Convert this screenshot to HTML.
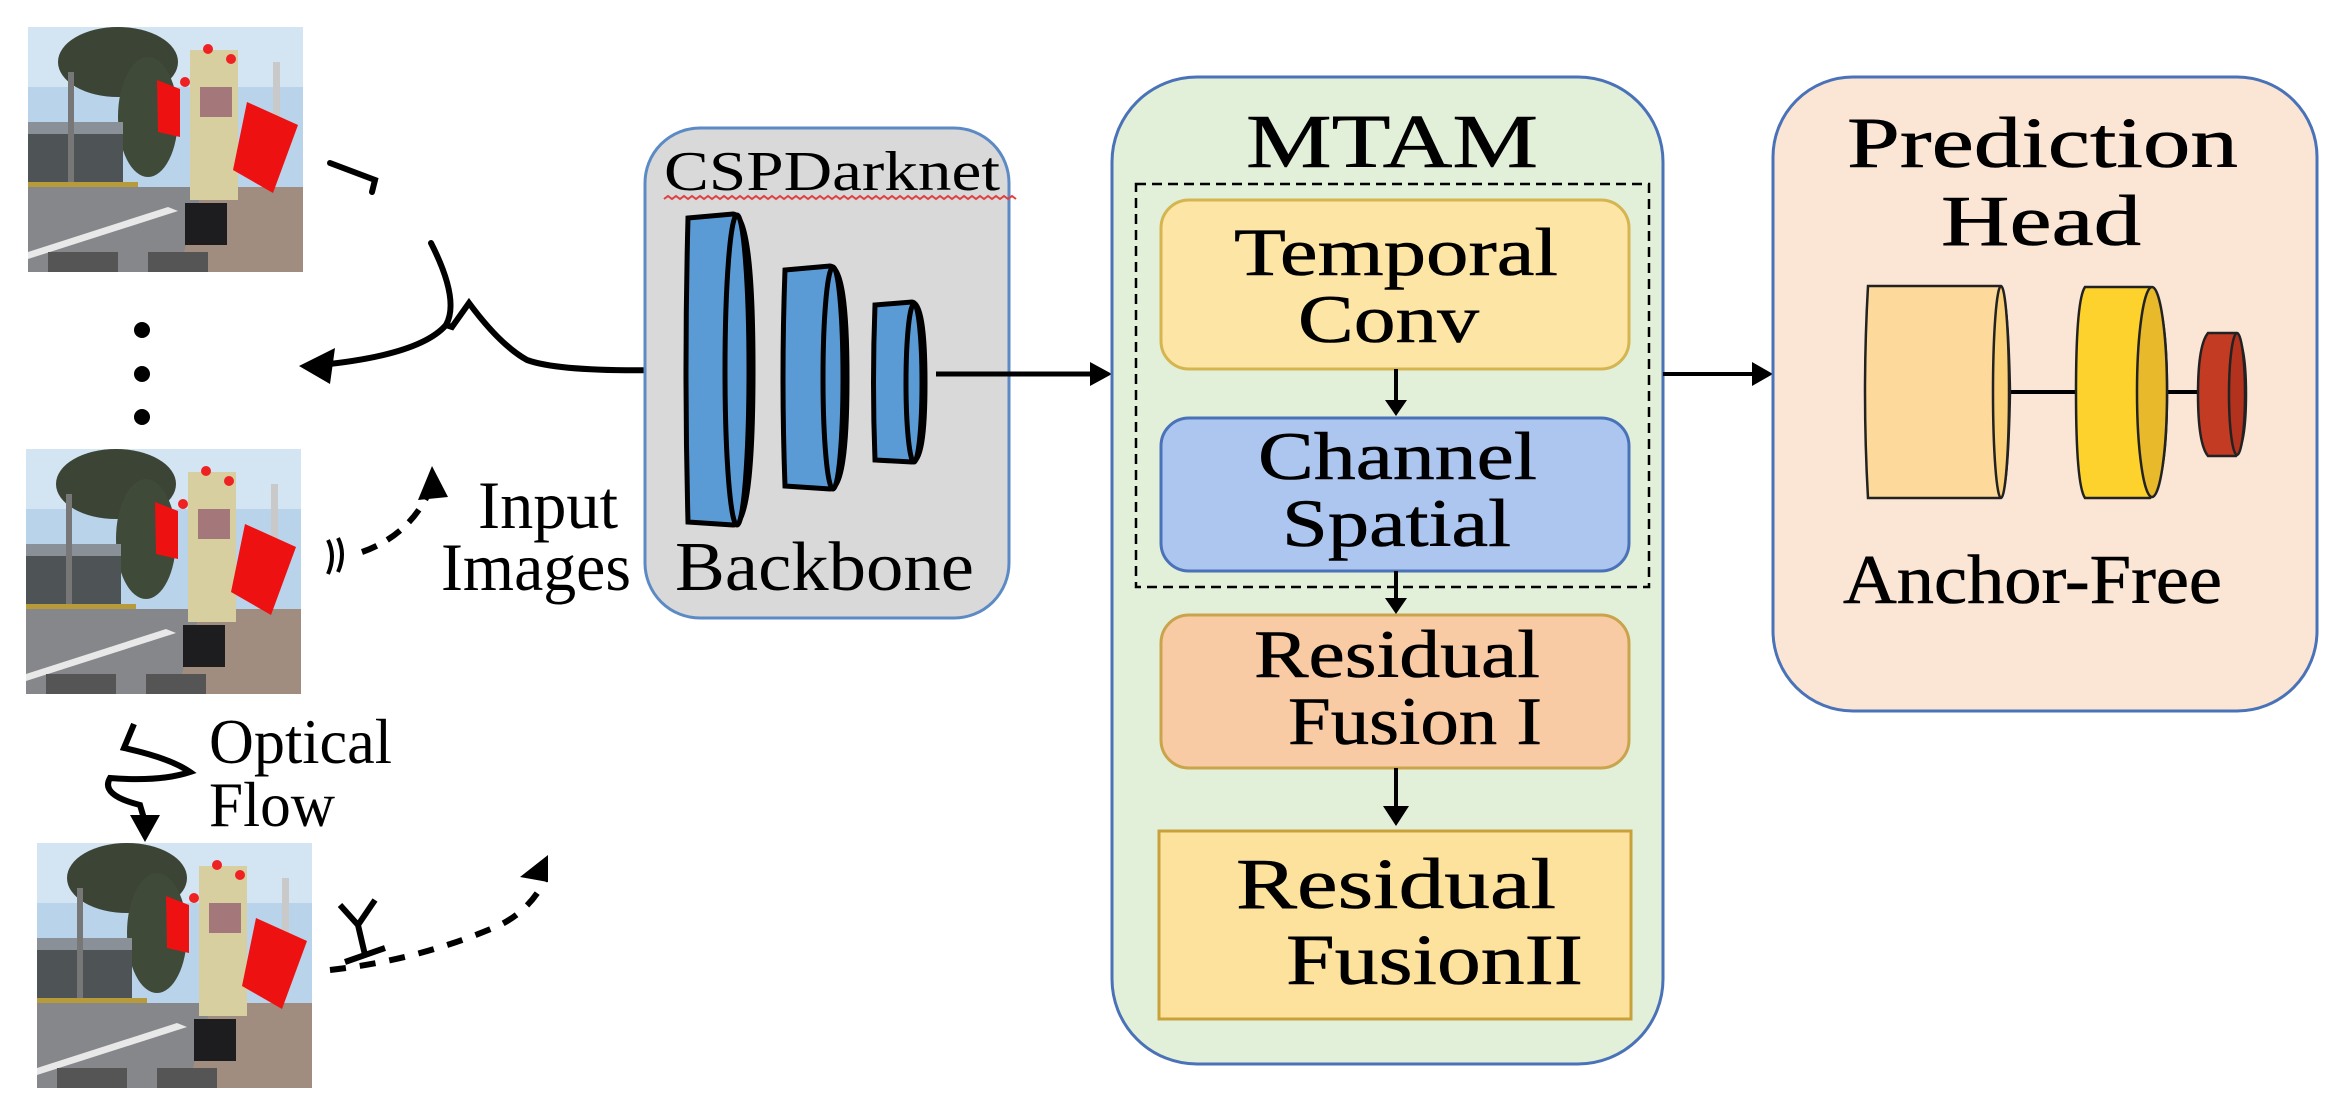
<!DOCTYPE html>
<html><head><meta charset="utf-8"><style>
html,body{margin:0;padding:0;background:#fff;}
svg{display:block;}
text{font-family:"Liberation Serif",serif;fill:#000;}
.b{stroke:#000;stroke-width:0.6;}
</style></head><body>
<svg width="2339" height="1112" viewBox="0 0 2339 1112" xmlns="http://www.w3.org/2000/svg">
<defs>
<g id="photo">
  <rect x="0" y="0" width="275" height="245" fill="#b9d3ea"/>
  <rect x="0" y="0" width="275" height="60" fill="#d3e4f2"/>
  <ellipse cx="90" cy="35" rx="60" ry="35" fill="#3c4435"/>
  <ellipse cx="120" cy="90" rx="30" ry="60" fill="#3f4a38"/>
  <rect x="0" y="95" width="95" height="65" fill="#4e5356"/>
  <rect x="0" y="95" width="95" height="12" fill="#8a9097"/>
  <rect x="245" y="35" width="7" height="85" fill="#c9c9c9"/>
  <rect x="40" y="45" width="6" height="120" fill="#777"/>
  <rect x="0" y="155" width="110" height="8" fill="#b79a3a"/>
  <rect x="0" y="160" width="275" height="85" fill="#85878a"/>
  <polygon points="175,160 275,160 275,245 150,245" fill="#a08d80"/>
  <polygon points="0,225 140,180 150,184 0,232" fill="#e8e8e8"/>
  <rect x="20" y="225" width="70" height="20" fill="#555"/>
  <rect x="120" y="225" width="60" height="20" fill="#555"/>
  <rect x="162" y="23" width="48" height="150" fill="#d8cfa0"/>
  <rect x="172" y="60" width="32" height="30" fill="#a4787a"/>
  <circle cx="180" cy="22" r="5" fill="#e22"/><circle cx="203" cy="32" r="5" fill="#e22"/><circle cx="157" cy="55" r="5" fill="#e22"/>
  <rect x="157" y="176" width="42" height="42" fill="#1d1d1f"/>
  <polygon points="129,53 152,62 152,110 130,105" fill="#ee1111"/>
  <polygon points="219,75 270,98 245,166 205,143" fill="#ee1111"/>
</g>
</defs>

<use href="#photo" transform="translate(28,27)"/>
<use href="#photo" transform="translate(26,449)"/>
<use href="#photo" transform="translate(37,843)"/>

<circle cx="142" cy="330" r="8" fill="#000"/>
<circle cx="142" cy="374" r="8" fill="#000"/>
<circle cx="142" cy="417" r="8" fill="#000"/>

<g fill="none" stroke="#000" stroke-width="6" stroke-linecap="round">
  <path d="M330,163 L375,180 L372,192"/>
  <path d="M431,243 Q460,300 446,325 Q420,355 320,365"/>
  <path d="M446,325 L452,327 L469,303 Q500,345 527,360 Q560,372 665,370"/>
</g>
<polygon points="299,366 335,348 330,384" fill="#000"/>
<polygon points="685,370 662,358 662,382" fill="#000"/>

<g fill="none" stroke="#000" stroke-width="6" stroke-dasharray="16,12">
  <path d="M362,552 Q410,535 430,490"/>
</g>
<path d="M328,540 q8,16 0,34 M338,538 q8,16 0,34" fill="none" stroke="#000" stroke-width="4"/>
<polygon points="432,466 418,500 448,497" fill="#000"/>
<text x="478" y="528" font-size="68" textLength="140" lengthAdjust="spacingAndGlyphs">Input</text>
<text x="441" y="590" font-size="68" textLength="190" lengthAdjust="spacingAndGlyphs">Images</text>

<path d="M134,724 L124,748 Q170,758 190,772 Q160,782 110,778 Q100,795 140,805 L145,822" fill="none" stroke="#000" stroke-width="6"/>
<polygon points="145,842 130,815 160,815" fill="#000"/>
<text x="209" y="763" font-size="64" textLength="183" lengthAdjust="spacingAndGlyphs">Optical</text>
<text x="209" y="826" font-size="64" textLength="126" lengthAdjust="spacingAndGlyphs">Flow</text>

<path d="M330,970 Q420,960 500,925 Q530,910 545,880" fill="none" stroke="#000" stroke-width="6" stroke-dasharray="16,14"/>
<path d="M345,962 L385,948 M365,955 L358,925 L340,905 M358,925 L375,900" fill="none" stroke="#000" stroke-width="6"/>
<polygon points="548,855 520,877 548,882" fill="#000"/>

<rect x="645" y="128" width="364" height="490" rx="55" fill="#d9d9d9" stroke="#5b8ac4" stroke-width="3"/>
<text x="664" y="190" font-size="56" textLength="336" lengthAdjust="spacingAndGlyphs">CSPDarknet</text>
<path d="M664,199 l4,-3 l4,3 l4,-3 l4,3 l4,-3 l4,3 l4,-3 l4,3 l4,-3 l4,3 l4,-3 l4,3 l4,-3 l4,3 l4,-3 l4,3 l4,-3 l4,3 l4,-3 l4,3 l4,-3 l4,3 l4,-3 l4,3 l4,-3 l4,3 l4,-3 l4,3 l4,-3 l4,3 l4,-3 l4,3 l4,-3 l4,3 l4,-3 l4,3 l4,-3 l4,3 l4,-3 l4,3 l4,-3 l4,3 l4,-3 l4,3 l4,-3 l4,3 l4,-3 l4,3 l4,-3 l4,3 l4,-3 l4,3 l4,-3 l4,3 l4,-3 l4,3 l4,-3 l4,3 l4,-3 l4,3 l4,-3 l4,3 l4,-3 l4,3 l4,-3 l4,3 l4,-3 l4,3 l4,-3 l4,3 l4,-3 l4,3 l4,-3 l4,3 l4,-3 l4,3 l4,-3 l4,3 l4,-3 l4,3 l4,-3 l4,3 l4,-3 l4,3 l4,-3 l4,3 l4,-3 l4,3" fill="none" stroke="#e04040" stroke-width="2"/>
<text x="675" y="590" font-size="70" textLength="299" lengthAdjust="spacingAndGlyphs">Backbone</text>
<g stroke="#000" stroke-width="5" fill="#5b9bd5">
  <path d="M688,218 L733,214 Q753,215 753,370 Q753,525 733,525 L688,522 Q684,370 688,218 Z"/>
  <ellipse cx="737" cy="370" rx="12" ry="155"/>
  <path d="M785,270 L830,266 Q847,267 847,378 Q847,489 830,489 L785,486 Q781,378 785,270 Z"/>
  <ellipse cx="833" cy="378" rx="10" ry="111"/>
  <path d="M875,305 L912,302 Q925,303 925,383 Q925,462 912,462 L875,460 Q872,383 875,305 Z"/>
  <ellipse cx="914" cy="383" rx="8" ry="79"/>
</g>
<line x1="936" y1="374" x2="1095" y2="374" stroke="#000" stroke-width="5"/>
<polygon points="1112,374 1090,362 1090,386" fill="#000"/>

<rect x="1112" y="77" width="551" height="987" rx="85" fill="#e2efd9" stroke="#4a72b8" stroke-width="3"/>
<text class="b" x="1246" y="167" font-size="76" textLength="292" lengthAdjust="spacingAndGlyphs">MTAM</text>
<rect x="1136" y="184" width="513" height="403" fill="none" stroke="#000" stroke-width="2.5" stroke-dasharray="10,6"/>
<rect x="1161" y="200" width="468" height="169" rx="28" fill="#fde5a5" stroke="#d4b550" stroke-width="3"/>
<text class="b" x="1234" y="275" font-size="68" textLength="324" lengthAdjust="spacingAndGlyphs">Temporal</text>
<text class="b" x="1298" y="342" font-size="68" textLength="181" lengthAdjust="spacingAndGlyphs">Conv</text>
<rect x="1161" y="418" width="468" height="153" rx="28" fill="#adc6ef" stroke="#4a72b8" stroke-width="3"/>
<text class="b" x="1258" y="479" font-size="68" textLength="279" lengthAdjust="spacingAndGlyphs">Channel</text>
<text class="b" x="1282" y="546" font-size="68" textLength="229" lengthAdjust="spacingAndGlyphs">Spatial</text>
<rect x="1161" y="615" width="468" height="153" rx="28" fill="#f8cba5" stroke="#c9a44c" stroke-width="3"/>
<text class="b" x="1254" y="677" font-size="68" textLength="286" lengthAdjust="spacingAndGlyphs">Residual</text>
<text class="b" x="1288" y="744" font-size="68" textLength="254" lengthAdjust="spacingAndGlyphs">Fusion I</text>
<rect x="1159" y="831" width="472" height="188" fill="#fde29e" stroke="#c9a13b" stroke-width="3"/>
<text class="b" x="1236" y="908" font-size="72" textLength="320" lengthAdjust="spacingAndGlyphs">Residual</text>
<text class="b" x="1286" y="984" font-size="72" textLength="297" lengthAdjust="spacingAndGlyphs">FusionII</text>
<g stroke="#000" stroke-width="4">
  <line x1="1396" y1="369" x2="1396" y2="402"/>
  <line x1="1396" y1="571" x2="1396" y2="600"/>
  <line x1="1396" y1="768" x2="1396" y2="808"/>
</g>
<polygon points="1396,416 1385,400 1407,400" fill="#000"/>
<polygon points="1396,614 1385,598 1407,598" fill="#000"/>
<polygon points="1396,826 1383,806 1409,806" fill="#000"/>
<line x1="1663" y1="374" x2="1755" y2="374" stroke="#000" stroke-width="4"/>
<polygon points="1773,374 1752,362 1752,386" fill="#000"/>

<rect x="1773" y="77" width="544" height="634" rx="80" fill="#fbe6d5" stroke="#4a72b8" stroke-width="3"/>
<text class="b" x="1847" y="167" font-size="72" textLength="391" lengthAdjust="spacingAndGlyphs">Prediction</text>
<text class="b" x="1941" y="245" font-size="72" textLength="200" lengthAdjust="spacingAndGlyphs">Head</text>
<line x1="2000" y1="392" x2="2200" y2="392" stroke="#000" stroke-width="4"/>
<g stroke="#222" stroke-width="2.5">
  <path d="M1868,286 L2000,286 Q2008,290 2010,392 Q2008,495 2000,498 L1868,498 Q1862,392 1868,286 Z" fill="#fdd99b"/>
  <ellipse cx="2001" cy="392" rx="8" ry="106" fill="#fbd07a"/>
  <path d="M2085,287 L2150,287 Q2167,300 2167,392 Q2167,485 2150,498 L2085,498 Q2076,485 2076,392 Q2076,300 2085,287 Z" fill="#fdd22c"/>
  <ellipse cx="2152" cy="392" rx="15" ry="105" fill="#e8b92a"/>
  <path d="M2208,333 L2236,333 Q2246,345 2246,394 Q2246,444 2236,456 L2208,456 Q2198,444 2198,394 Q2198,345 2208,333 Z" fill="#c23b22"/>
  <ellipse cx="2237" cy="394" rx="8" ry="61" fill="#b3321d"/>
</g>
<text class="b" x="1843" y="603" font-size="70" textLength="379" lengthAdjust="spacingAndGlyphs">Anchor-Free</text>
</svg>
</body></html>
